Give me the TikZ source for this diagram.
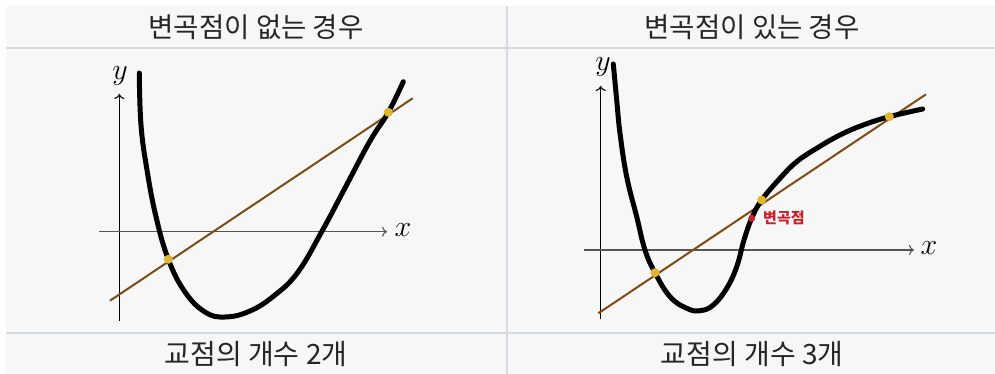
\RequirePackage{fix-cm}
\documentclass[tikz,border=0pt]{standalone}
\usepackage{fontspec}
\newfontfamily\kr{Noto Sans CJK KR}
\usetikzlibrary{arrows.meta}
\definecolor{panelbg}{HTML}{F7F7F7}
\definecolor{rule}{HTML}{D5DAE3}
\definecolor{tanline}{RGB}{125,75,20}
\definecolor{ptyellow}{HTML}{E0B62E}
\definecolor{inflred}{HTML}{C8202C}
\definecolor{axisgray}{HTML}{555555}
\tikzset{
  title/.style={font=\kr\fontsize{27.5}{30}\selectfont, text=black!85, inner sep=0pt},
  caption/.style={font=\kr\fontsize{28}{30}\selectfont, text=black!85, inner sep=0pt},
  tableline/.style={draw=rule, line width=2pt},
  curve/.style={line width=5pt, black, line cap=round, line join=round},
  secant/.style={line width=2pt, tanline},
  yaxis/.style={line width=1.1pt, black, -{To[length=5pt,width=10pt]}},
  xaxis/.style={line width=1.1pt, axisgray, -{To[length=5pt,width=10pt]}},
  axlabel/.style={font=\fontsize{30}{30}\selectfont, inner sep=0pt},
  ipoint/.style={circle, fill=ptyellow, minimum size=9pt, inner sep=0pt},
  rpoint/.style={circle, fill=inflred, minimum size=7pt, inner sep=0pt},
}
\begin{document}
\begin{tikzpicture}[x=1pt,y=-1pt]
\useasboundingbox (0,0) rectangle (995,374);
\fill[white] (0,0) rectangle (995,374);
\fill[panelbg] (6,6) rectangle (995,374);
% table rules
\draw[tableline] (6,48) -- (995,48);
\draw[tableline] (6,333) -- (995,333);
\draw[tableline] (507,6) -- (507,374);
% titles
\node[title] (t1) at (256,27) {변곡점이 없는 경우};
\node[title] (t2) at (752,27) {변곡점이 있는 경우};
\node[caption] (c1) at (256,354) {교점의 개수 2개};
\node[caption] (c2) at (752,354) {교점의 개수 3개};

% ---------- left plot ----------
\coordinate (ly0) at (119.3,320.7);
\coordinate (ly1) at (119.3,94);
\coordinate (lx0) at (99.3,231.7);
\coordinate (lx1) at (387,231.7);
\draw[yaxis] (ly0) -- (ly1);
\draw[xaxis] (lx0) -- (lx1);
\node[axlabel] (lylab) at (120,76) {$y$};
\node[axlabel] (lxlab) at (403,230) {$x$};
\coordinate (ls0) at (110,300.7);
\coordinate (ls1) at (412.7,98.3);
\draw[secant] (ls0) -- (ls1);
\draw[curve] plot[smooth, tension=0.7] coordinates {
 (139.3,73) (141,125) (147,170) (156,216.7) (168.3,259.3)
 (185,292) (205,312) (225,317) (250,311) (275,295) (298,272)
 (321.7,231.7) (345,188) (370,141) (388.3,112.3) (403.3,81.7)};
\node[ipoint] (lp1) at (168.3,259.3) {};
\node[ipoint] (lp2) at (388.3,112.3) {};

% ---------- right plot ----------
\coordinate (ry0) at (600.7,319.3);
\coordinate (ry1) at (600.7,86);
\coordinate (rx0) at (584,250);
\coordinate (rx1) at (914,250);
\draw[yaxis] (ry0) -- (ry1);
\draw[xaxis] (rx0) -- (rx1);
\node[axlabel] (rylab) at (603,67) {$y$};
\node[axlabel] (rxlab) at (929,248) {$x$};
\coordinate (rs0) at (598.3,313.3);
\coordinate (rs1) at (926,94.3);
\draw[secant] (rs0) -- (rs1);
\draw[curve] plot[smooth, tension=0.7] coordinates {
 (613.3,64) (616.7,100) (620,133.3) (626.7,176.7) (636.7,216.7) (645,250)
 (655,272.7) (670,296.7) (686.7,308.3) (700,310.7) (713.3,305) (726.7,288.3)
 (736.7,266.7) (744,240) (751.7,218.3) (761.7,200) (780,178.3) (796.7,161.7)
 (816.7,148.3) (840,135) (863.3,125) (889.3,116.7) (922.7,109)};
\node[ipoint] (rp1) at (655,272.7) {};
\node[ipoint] (rp2) at (761.7,200) {};
\node[ipoint] (rp3) at (889.3,116.7) {};
\node[rpoint] (rinf) at (751.7,218.3) {};
\node[font=\kr\bfseries\fontsize{15}{15}\selectfont, text=inflred, anchor=west, inner sep=0pt] (rinflab) at (763,218.3) {변곡점};
\end{tikzpicture}
\end{document}
